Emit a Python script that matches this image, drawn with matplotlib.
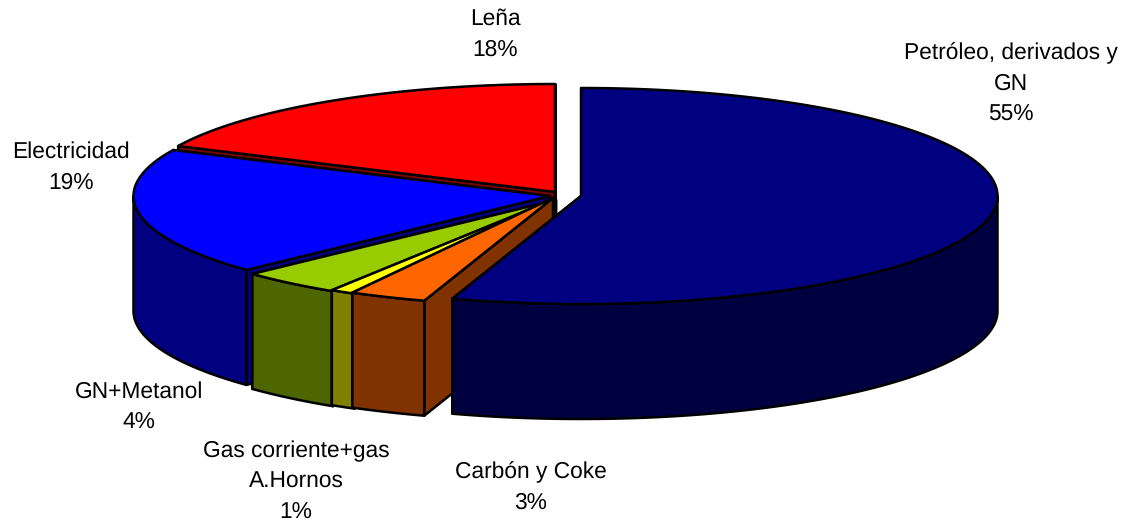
import numpy as np
import matplotlib
matplotlib.use("Agg")
import matplotlib.pyplot as plt
from matplotlib.patches import Polygon

plt.rcParams['font.family'] = ['Liberation Sans', 'DejaVu Sans']
plt.rcParams['text.hinting'] = 'no_hinting'

# Energy consumption shares, in percent, clockwise from twelve o'clock
categories = ["Petróleo, derivados y\nGN", "Carbón y Coke", "Gas corriente+gas\nA.Hornos",
              "GN+Metanol", "Electricidad", "Leña"]
shares = [55, 3, 1, 4, 19, 18]

top_colors = ["#000080", "#FF6600", "#FFFF00", "#99CC00", "#0000FF", "#FF0000"]
wall_colors = ["#000040", "#803300", "#808000", "#4D6600", "#000080", "#800000"]

# Wedge apex on the canvas for each slice; the first one is pulled out of the pie
apexes = [(581, 196), (553, 198), (555, 199), (556, 200), (550, 196), (555, 192)]
label_xy = [(1011, 53), (531, 472), (296, 451), (139, 392), (71, 152), (495, 19)]

RX, RY, DEPTH = 416.5, 108, 115
LINE_PX = 31

fig = plt.figure(figsize=(11.23, 5.25), dpi=100)
ax = fig.add_axes([0, 0, 1, 1])
ax.set_xlim(0, 1123)
ax.set_ylim(525, 0)
ax.axis("off")


def rim(center, start, stop):
    """Points on the elliptical rim between two clockwise angles in degrees."""
    n = max(2, int(abs(stop - start)) + 2)
    theta = np.radians(np.linspace(start, stop, n))
    return np.column_stack((center[0] + RX * np.sin(theta), center[1] - RY * np.cos(theta)))


def drop(points):
    return points + np.array([0, DEPTH])


def shape(points, color, z):
    ax.add_patch(Polygon(points, closed=True, facecolor=color, edgecolor="black",
                         linewidth=1.8, joinstyle="round", zorder=z))


edges = np.concatenate(([0], np.cumsum(shares))) / sum(shares) * 360

# Painted from the back slice to the front one, with the pulled-out slice last
for order, i in enumerate([5, 4, 3, 2, 1, 0]):
    start, stop = edges[i], edges[i + 1]
    c = np.array(apexes[i], dtype=float)
    z = 2 + order * 5

    # Closing cut faces: the far one first, so the near one hides its outline
    for step, angle in enumerate((stop, start)):
        end = rim(c, angle, angle)[0]
        face = np.array([c, end, drop(end), drop(c)])
        shape(face, wall_colors[i], z + step)

    lo, hi = max(start, 90), min(stop, 270)
    if lo < hi:
        arc = rim(c, lo, hi)
        shape(np.vstack((arc, drop(arc)[::-1])), wall_colors[i], z + 2)

    shape(np.vstack(([c], rim(c, start, stop))), top_colors[i], z + 3)

for name, share, (x, y) in zip(categories, shares, label_xy):
    lines = name.split("\n") + [f"{share}%"]
    for k, line in enumerate(lines):
        ax.text(x, y + k * LINE_PX, line, ha="center", va="center", fontsize=16.35,
                color="black", zorder=50)

fig.savefig("out.png", dpi=100, facecolor="white")
